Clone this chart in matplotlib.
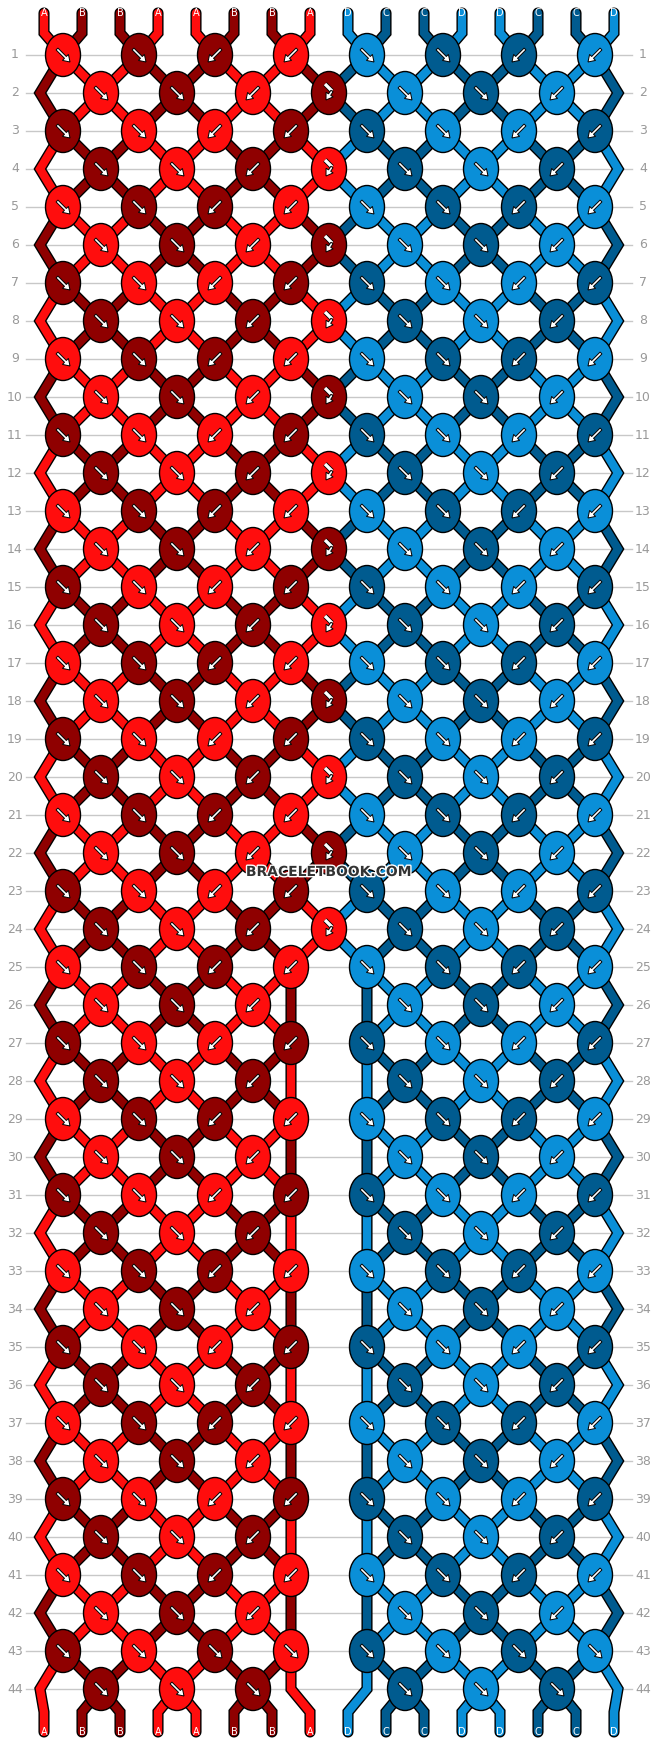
import matplotlib
matplotlib.use("Agg")
import matplotlib.pyplot as plt
from matplotlib.patches import Ellipse, FancyArrow
import matplotlib.patheffects as pe

# ---- data ----
STRINGS = list("ABBAABBADCCDDCCD")
COLORS = {"A": "#ff0d0d", "B": "#8f0000", "C": "#005b8f", "D": "#0a8fd8"}
ROW_TYPES = [
    "FFBBFFBB", "FFBMFFB", "FFBBFFBB", "FFBMFFB", "FFBBFFBB", "FFBMFFB",
    "FFBBFFBB", "FFBMFFB", "FFBBFFBB", "FFBMFFB", "FFBBFFBB", "FFBMFFB",
    "FFBBFFBB", "FFBMFFB", "FFBBFFBB", "FFBMFFB", "FFBBFFBB", "FFBMFFB",
    "FFBBFFBB", "FFBMFFB", "FFBBFFBB", "FFBMFFB", "FFBBFFBB", "FFBMFFB",
    "FFBBFFBB", "FFB-FFB", "FFBBFFBB", "FFB-FFB", "FFBBFFBB", "FFB-FFB",
    "FFBBFFBB", "FFB-FFB", "FFBBFFBB", "FFB-FFB", "FFBBFFBB", "FFB-FFB",
    "FFBBFFBB", "FFB-FFB", "FFBBFFBB", "FFB-FFB", "FFBBFFBB", "FFB-FFB",
    "FFFFFFFF", "FFF-FFF",
]
ROW_LABELS = [str(i + 1) for i in range(len(ROW_TYPES))]

# ---- layout (pixels) ----
W, H = 658, 1744
Y0, DY = 55, 38
X0, DX = 63, 38
LEFT_EDGE, RIGHT_EDGE = 40, 618
MID_X = {7: 291, 8: 367}

fig = plt.figure(figsize=(W / 100, H / 100), dpi=100)
ax = fig.add_axes([0, 0, 1, 1])
ax.set_xlim(0, W)
ax.set_ylim(H, 0)
ax.axis("off")

n = len(STRINGS)
def top_x(p):
    return X0 + 2 * DX * (p // 2) + (-19 if p % 2 == 0 else 19)

order = list(range(n))
paths = {s: [(top_x(s), 13), (top_x(s), 33)] for s in range(n)}
knots = []
for r, types in enumerate(ROW_TYPES):
    y = Y0 + r * DY
    start = 0 if r % 2 == 0 else 1
    pairs = [(p, p + 1) for p in range(start, n - 1, 2)]
    used = set()
    neworder = order[:]
    for (p, q), t in zip(pairs, types):
        if t == "-":
            continue
        x = X0 + DX * p
        sl, sr = order[p], order[q]
        for s in (sl, sr):
            paths[s].append((x, y))
        used.update((p, q))
        if t == "F":
            col, nl, nr = STRINGS[sl], sr, sl
        elif t == "B":
            col, nl, nr = STRINGS[sr], sr, sl
        else:
            col, nl, nr = STRINGS[sl], sl, sr
        neworder[p], neworder[q] = nl, nr
        knots.append((x, y, COLORS[col], t))
    for p in range(n):
        if p not in used:
            s = order[p]
            if p == 0:
                paths[s].append((LEFT_EDGE, y))
            elif p == n - 1:
                paths[s].append((RIGHT_EDGE, y))
            else:
                paths[s].append((MID_X.get(p, X0 + DX * p), y))
    order = neworder

for p in range(n):
    s = order[p]
    paths[s].append((top_x(p), 1712))
    paths[s].append((top_x(p), 1732))

for r, lab in enumerate(ROW_LABELS):
    y = Y0 + r * DY
    ax.plot([26, 632], [y, y], color="#c8c8c8", lw=1, zorder=0)
    ax.text(15, y, lab, ha="center", va="center", color="#999999", fontsize=9)
    ax.text(643, y, lab, ha="center", va="center", color="#999999", fontsize=9)

for s in range(n):
    xs, ys = zip(*paths[s])
    ax.plot(xs, ys, color="black", lw=8, solid_capstyle="round", solid_joinstyle="miter", zorder=1)
for s in range(n):
    xs, ys = zip(*paths[s])
    ax.plot(xs, ys, color=COLORS[STRINGS[s]], lw=6, solid_capstyle="round", solid_joinstyle="miter", zorder=2)

for p in range(n):
    ax.text(top_x(p), 13, STRINGS[p], ha="center", va="center", color="white", fontsize=7, zorder=3)
    ax.text(top_x(p), 1732, STRINGS[order[p]], ha="center", va="center", color="white", fontsize=7, zorder=3)

def arrow(x0, y0, dx, dy):
    ax.add_patch(FancyArrow(x0, y0, dx, dy, width=2.6, head_width=8.5, head_length=6.5,
                            length_includes_head=True, fc="white", ec="black", lw=0.7, zorder=5))

for x, y, c, t in knots:
    ax.add_patch(Ellipse((x, y), 35, 43, facecolor=c, edgecolor="black", lw=1, zorder=4))
    if t == "F":
        arrow(x - 6, y - 6, 13, 13)
    elif t == "B":
        arrow(x + 6, y - 6, -13, 13)
    else:
        ax.plot([x - 4, x + 3], [y - 9, y - 2], color="white", lw=2.4, zorder=5,
                solid_capstyle="butt",
                path_effects=[pe.Stroke(linewidth=3.6, foreground="black"), pe.Normal()])
        arrow(x + 3, y - 2, -6, 9)

ax.text(329, 872, "BRACELETBOOK.COM", ha="center", va="center", fontsize=10, fontweight="bold",
        color="#333333", zorder=6, path_effects=[pe.Stroke(linewidth=2, foreground="white"), pe.Normal()])

fig.savefig("out.png", dpi=100)
